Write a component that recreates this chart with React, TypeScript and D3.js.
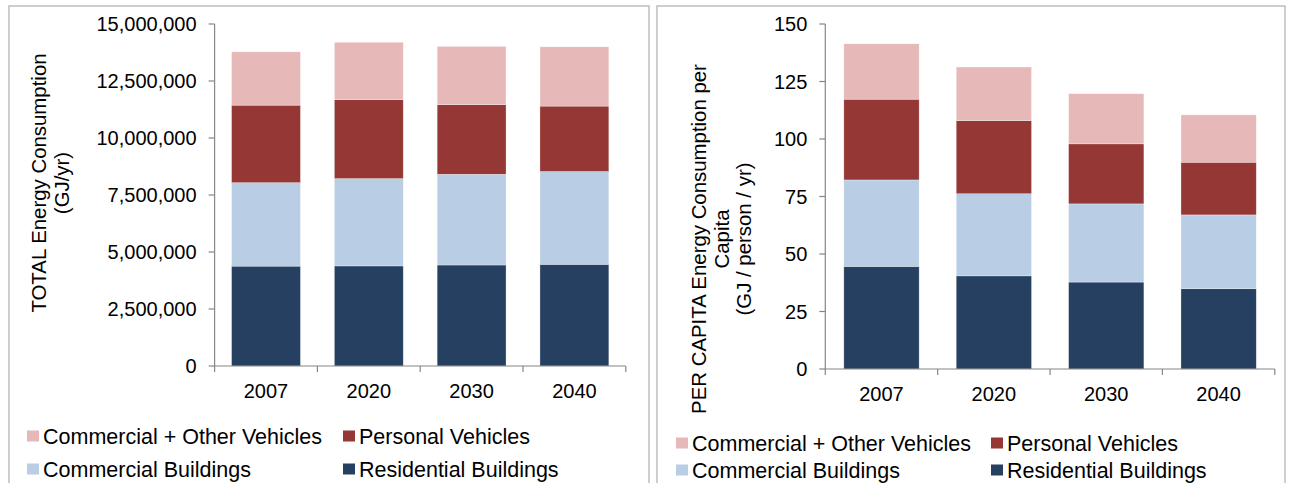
import React from 'react'
import * as d3 from 'd3'

const years = ['2007', '2020', '2030', '2040']
const seriesKeys = ['Residential Buildings', 'Commercial Buildings', 'Personal Vehicles', 'Commercial + Other Vehicles']
const colors = ['#254061', '#B9CDE5', '#953735', '#E6B9B8']

// TOTAL energy, GJ/yr
const totalResidential = [4380000, 4390000, 4430000, 4460000]
const totalCommercialBldg = [3660000, 3830000, 3980000, 4070000]
const totalPersonalVeh = [3400000, 3460000, 3050000, 2870000]
const totalCommercialVeh = [2340000, 2520000, 2560000, 2600000]
const totalTicks = [0, 2500000, 5000000, 7500000, 10000000, 12500000, 15000000]

// PER CAPITA, GJ / person / yr
const capitaResidential = [44.6, 40.5, 37.8, 34.9]
const capitaCommercialBldg = [37.6, 35.7, 34.0, 32.1]
const capitaPersonalVeh = [35.1, 31.8, 26.1, 22.9]
const capitaCommercialVeh = [24.1, 23.3, 21.8, 20.6]
const capitaTicks = [0, 25, 50, 75, 100, 125, 150]

// legend order as laid out in the picture (row by row)
const legendOrder = [3, 2, 1, 0]

const FONT = '"Liberation Sans", Arial, sans-serif'

interface PanelProps {
  box: [number, number, number]
  values: number[][]
  ticks: number[]
  fmt: (n: number) => string
  xRange: [number, number]
  yRange: [number, number]
  titleLines: string[]
  titleX: number
  titleY: number
  legendX: [number, number]
  legendY: [number, number]
}

const Panel: React.FC<PanelProps> = ({ box, values, ticks, fmt, xRange, yRange, titleLines, titleX, titleY, legendX, legendY }) => {
  const rows = years.map((yr, i) => {
    const r: Record<string, any> = { year: yr }
    seriesKeys.forEach((k, j) => { r[k] = values[j][i] })
    return r
  })
  const stacked = d3.stack<any>().keys(seriesKeys)(rows)

  const x = d3.scaleBand().domain(years).range(xRange).paddingInner(0.33).paddingOuter(0.165)
  const y = d3.scaleLinear().domain([0, ticks[ticks.length - 1]]).range(yRange)
  const y0 = yRange[0]
  const bounds = d3.range(years.length + 1).map(i => xRange[0] + i * x.step())

  return (
    <g>
      <rect x={box[0]} y={6} width={box[1] - box[0]} height={box[2]} fill="#fff" stroke="#BFBFBF" strokeWidth={1.5} />
      {stacked.map((s, j) => (
        <g key={s.key} fill={colors[j]}>
          {s.map((d, i) => (
            <rect key={i} x={x(years[i])} y={y(d[1])} width={x.bandwidth()} height={y(d[0]) - y(d[1])}
              stroke="#fff" strokeOpacity={0.5} strokeWidth={0.6} />
          ))}
        </g>
      ))}
      {/* y axis */}
      <line x1={xRange[0]} x2={xRange[0]} y1={y0} y2={yRange[1]} stroke="#868686" strokeWidth={1.2} />
      {ticks.map(t => (
        <g key={t}>
          <line x1={xRange[0] - 6} x2={xRange[0]} y1={y(t)} y2={y(t)} stroke="#868686" strokeWidth={1.2} />
          <text x={xRange[0] - 18} y={y(t)} dy="0.35em" textAnchor="end" fontSize={20} fontFamily={FONT} fill="#000">{fmt(t)}</text>
        </g>
      ))}
      {/* x axis */}
      <line x1={xRange[0]} x2={xRange[1]} y1={y0} y2={y0} stroke="#868686" strokeWidth={1.2} />
      {bounds.map((b, i) => (
        <line key={i} x1={b} x2={b} y1={y0} y2={y0 + 6} stroke="#868686" strokeWidth={1.2} />
      ))}
      {years.map(yr => (
        <text key={yr} x={(x(yr) as number) + x.bandwidth() / 2} y={y0 + 25} dy="0.35em" textAnchor="middle"
          fontSize={20} fontFamily={FONT} fill="#000">{yr}</text>
      ))}
      {/* axis title */}
      <text transform={`translate(${titleX},${titleY}) rotate(-90)`} textAnchor="middle" fontSize={20.4} fontFamily={FONT} fill="#000">
        {titleLines.map((l, i) => (
          <tspan key={i} x={0} y={i * 22.5} dy="0.35em">{l}</tspan>
        ))}
      </text>
      {/* legend */}
      {legendOrder.map((si, k) => {
        const lx = legendX[k % 2]
        const ly = legendY[Math.floor(k / 2)]
        return (
          <g key={si}>
            <rect x={lx} y={ly - 5.5} width={12} height={11} fill={colors[si]} />
            <text x={lx + 16} y={ly} dy="0.35em" fontSize={21.5} fontFamily={FONT} fill="#000">{seriesKeys[si]}</text>
          </g>
        )
      })}
    </g>
  )
}

export default function App() {
  return (
    <svg width={1295} height={483} style={{ position: 'absolute', left: 0, top: 0, background: '#fff' }}>
      <rect width={1295} height={483} fill="#fff" />
      <Panel
        box={[9, 649, 490]}
        values={[totalResidential, totalCommercialBldg, totalPersonalVeh, totalCommercialVeh]}
        ticks={totalTicks}
        fmt={d3.format(',')}
        xRange={[214.6, 625.8]}
        yRange={[366, 24]}
        titleLines={['TOTAL Energy Consumption', '(GJ/yr)']}
        titleX={39}
        titleY={183}
        legendX={[27, 343]}
        legendY={[436, 469]}
      />
      <Panel
        box={[657, 1285, 490]}
        values={[capitaResidential, capitaCommercialBldg, capitaPersonalVeh, capitaCommercialVeh]}
        ticks={capitaTicks}
        fmt={d => String(d)}
        xRange={[825.3, 1274.8]}
        yRange={[369, 24]}
        titleLines={['PER CAPITA Energy Consumption per', 'Capita', '(GJ / person / yr)']}
        titleX={699}
        titleY={239}
        legendX={[676, 991]}
        legendY={[443, 470]}
      />
    </svg>
  )
}
